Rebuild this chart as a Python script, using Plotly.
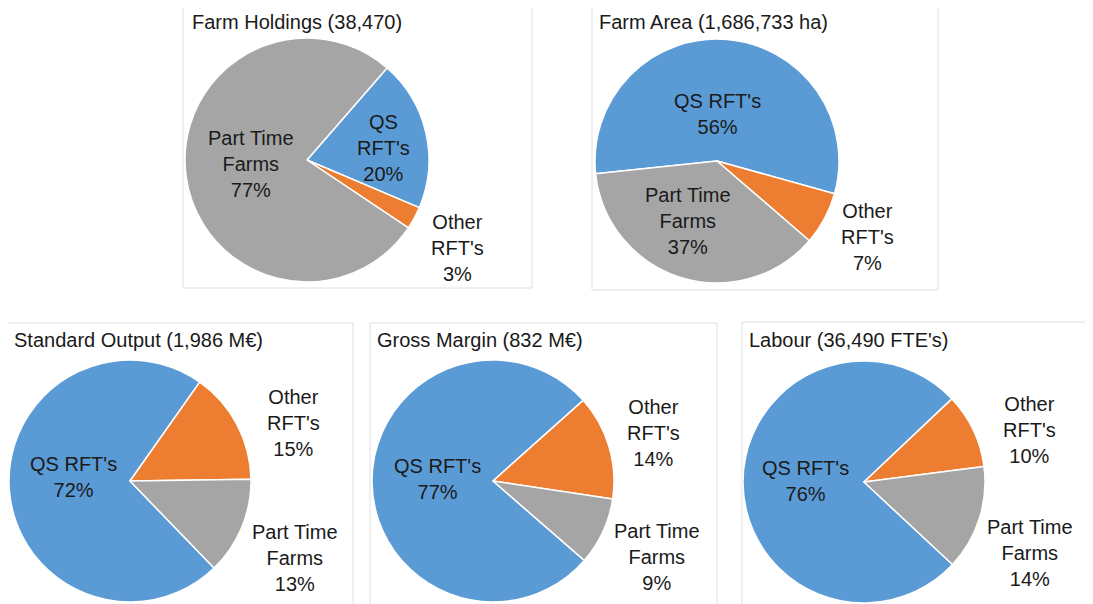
import plotly.graph_objects as go

W, H = 1093, 604
OFF = 8  # page body margin

labels = ["QS RFT's", "Other RFT's", "Part Time Farms"]
colors = ["#5B9BD5", "#ED7D31", "#A5A5A5"]

titles = [
    "Farm Holdings (38,470)",
    "Farm Area (1,686,733 ha)",
    "Standard Output (1,986 M€)",
    "Gross Margin (832 M€)",
    "Labour (36,490 FTE's)",
]

holdings = [20, 3, 77]
area = [56, 7, 37]
standard_output = [72, 15, 13]
gross_margin = [77, 14, 9]
labour = [76, 10, 14]

# slice label wording (line breaks) per chart
shown_holdings = ["QS<br>RFT's", "Other<br>RFT's", "Part Time<br>Farms"]
shown_other = ["QS RFT's", "Other<br>RFT's", "Part Time<br>Farms"]

font = "Arial, Liberation Sans, sans-serif"


def fx(x):
    return (x - OFF) / W


def fy(y):
    return 1 - (y - OFF) / H


def px_domain(cx, cy, r):
    return dict(x=[fx(cx - r), fx(cx + r)], y=[fy(cy + r), fy(cy - r)])


# values, label text, (cx, cy, r), rotation, label centres (QS, Other, Part Time)
charts = [
    (holdings, shown_holdings, (307, 160, 122), 41, [(383, 148), (457, 248), (251, 164)]),
    (area, shown_other, (717, 161, 122), 264, [(717, 114), (867, 237), (688, 221)]),
    (standard_output, shown_other, (130, 481, 121), 136, [(73, 477), (293, 423), (295, 558)]),
    (gross_margin, shown_other, (493, 481, 121), 131, [(437, 479), (653, 433), (657, 557)]),
    (labour, shown_other, (864, 482, 121), 133, [(805, 481), (1030, 430), (1030, 553)]),
]

fig = go.Figure()
for vals, shown, (cx, cy, r), rot, spots in charts:
    fig.add_trace(go.Pie(
        labels=labels,
        values=vals,
        textinfo="none",
        marker=dict(colors=colors, line=dict(color="white", width=1.5)),
        sort=False,
        direction="clockwise",
        rotation=rot,
        domain=px_domain(cx, cy, r),
        showlegend=False,
        hoverinfo="label+percent",
    ))
    for txt, v, (lx, ly) in zip(shown, vals, spots):
        fig.add_annotation(text=f"{txt}<br>{v}%", xref="paper", yref="paper",
                           x=fx(lx), y=fy(ly), xanchor="center", yanchor="middle",
                           showarrow=False, align="center",
                           font=dict(family=font, size=20, color="#1a1a1a"))

# panel frames and titles
boxes = [(183, 0, 532, 288), (592, 5, 938, 290), (0, 323, 353, 620), (370, 323, 717, 620), (742, 322, 1089, 620)]
title_pos = [(190, 22), (597, 22), (12, 340), (375, 340), (747, 340)]
for (x0, y0, x1, y1), (tx, ty), t in zip(boxes, title_pos, titles):
    fig.add_shape(type="rect", xref="paper", yref="paper",
                  x0=fx(x0), x1=fx(x1), y0=fy(y1), y1=fy(y0),
                  line=dict(color="#e0e0e0", width=1), layer="below")
    fig.add_annotation(text=t, xref="paper", yref="paper", x=fx(tx), y=fy(ty),
                       xanchor="left", yanchor="middle", showarrow=False,
                       font=dict(family=font, size=20, color="#1a1a1a"))

fig.update_layout(
    width=W, height=H,
    margin=dict(l=0, r=0, t=0, b=0),
    paper_bgcolor="white",
    plot_bgcolor="white",
)

fig.write_html("out.html")
